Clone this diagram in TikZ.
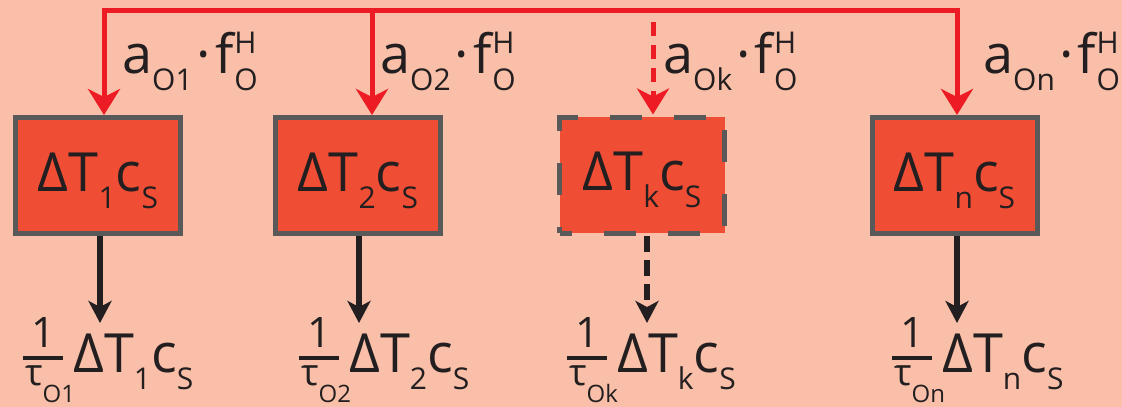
\documentclass[tikz,border=0pt]{standalone}
\usepackage{fontspec}
\setmainfont{Open Sans}
\usetikzlibrary{arrows.meta}

\definecolor{bg}{HTML}{F9BFA8}
\definecolor{wire}{HTML}{ED1C24}
\definecolor{boxfill}{HTML}{F04D35}
\definecolor{boxline}{HTML}{595959}
\definecolor{ink}{HTML}{231F20}

% type sizes and sub/superscript helpers
\newcommand\mainsz{\fontsize{54}{54}\selectfont}
\newcommand\subsz{\fontsize{30}{30}\selectfont}
\newcommand\lo[1]{\raisebox{-17pt}{\subsz #1}}
\newcommand\hilo[2]{\rlap{\raisebox{20pt}{\subsz #1}}\raisebox{-17pt}{\subsz #2}}
% a_{Ox} . f^H_O
\newcommand\flow[1]{a\lo{O#1}\kern4pt·\kern4pt f\kern1pt\hilo{H}{O}}
% Delta T_x c_S
\newcommand\dT[1]{ΔT\lo{#1}c\lo{S}}
% (1/tau_{Ox}) Delta T_x c_S
\newcommand\rate[2]{%
  \rlap{\rule[12pt]{40pt}{4pt}}%
  \rlap{\makebox[40pt]{\raisebox{25pt}{\fontsize{42}{42}\selectfont 1}}}%
  \rlap{\kern2pt\raisebox{-13pt}{\fontsize{37}{37}\selectfont τ\raisebox{-17pt}{\fontsize{24}{24}\selectfont O#1}}}%
  \kern50pt\dT{#2}}

\tikzset{
  cell/.style={draw=boxline, line width=5pt, fill=boxfill,
    minimum width=165pt, minimum height=116pt, inner sep=0pt,
    text height=41pt, text depth=10pt, font=\mainsz, text=ink},
  ghost/.style={cell, dash pattern=on 32pt off 32pt, dash phase=20pt},
  txt/.style={inner sep=0pt, anchor=base west, font=\mainsz, text=ink},
  feed/.style={draw=wire, line width=5pt, line join=miter,
    -{Stealth[length=26pt,width=32pt,inset=8pt]}},
  feeddash/.style={feed, dash pattern=on 14pt off 9pt},
  drain/.style={draw=ink, line width=5.5pt,
    -{Stealth[length=22pt,width=23pt,inset=6pt]}},
  draindash/.style={drain, dash pattern=on 16pt off 8pt},
}

\begin{document}
\begin{tikzpicture}[x=1pt,y=-1pt]
  \fill[bg] (0,0) rectangle (1122,407);
  \useasboundingbox (0,0) rectangle (1122,407);

  % storage boxes
  \node[cell]  (b1) at (98,175.5)  {\dT{1}};
  \node[cell]  (b2) at (358,175.5) {\dT{2}};
  \node[ghost] (b3) at (642,175)   {\dT{k}};
  \node[cell]  (b4) at (954.5,175.5) {\dT{n}};

  % inflow labels
  \node[txt] (f1) at (122,73) {\flow{1}};
  \node[txt] (f2) at (380,73) {\flow{2}};
  \node[txt] (f3) at (663,73) {\flow{k}};
  \node[txt] (f4) at (983,73) {\flow{n}};

  % outflow labels
  \node[txt] (r1) at (23,372)  {\rate{1}{1}};
  \node[txt] (r2) at (299,372) {\rate{2}{2}};
  \node[txt] (r3) at (567,372) {\rate{k}{k}};
  \node[txt] (r4) at (892,372) {\rate{n}{n}};

  % supply bus
  \coordinate (t1) at (104,10);
  \coordinate (t2) at (372,10);
  \coordinate (t3) at (653,22);
  \coordinate (t4) at (957,10);
  \draw[feed, {Stealth[length=26pt,width=32pt,inset=8pt]}-{Stealth[length=26pt,width=32pt,inset=8pt]}]
    (b1.north -| t1) -- (t1) -- (t4) -- (b4.north -| t4);
  \draw[feed] (t2) -- (b2.north -| t2);
  \draw[feeddash] (t3) -- (b3.north -| t3);

  % outflow arrows
  \coordinate (e1) at (100,323);
  \coordinate (e2) at (359,323);
  \coordinate (e3) at (647,323);
  \coordinate (e4) at (957,323);
  \draw[drain] (b1.south -| e1) -- (e1);
  \draw[drain] (b2.south -| e2) -- (e2);
  \draw[draindash] (b3.south -| e3) -- (e3);
  \draw[drain] (b4.south -| e4) -- (e4);
\end{tikzpicture}
\end{document}
